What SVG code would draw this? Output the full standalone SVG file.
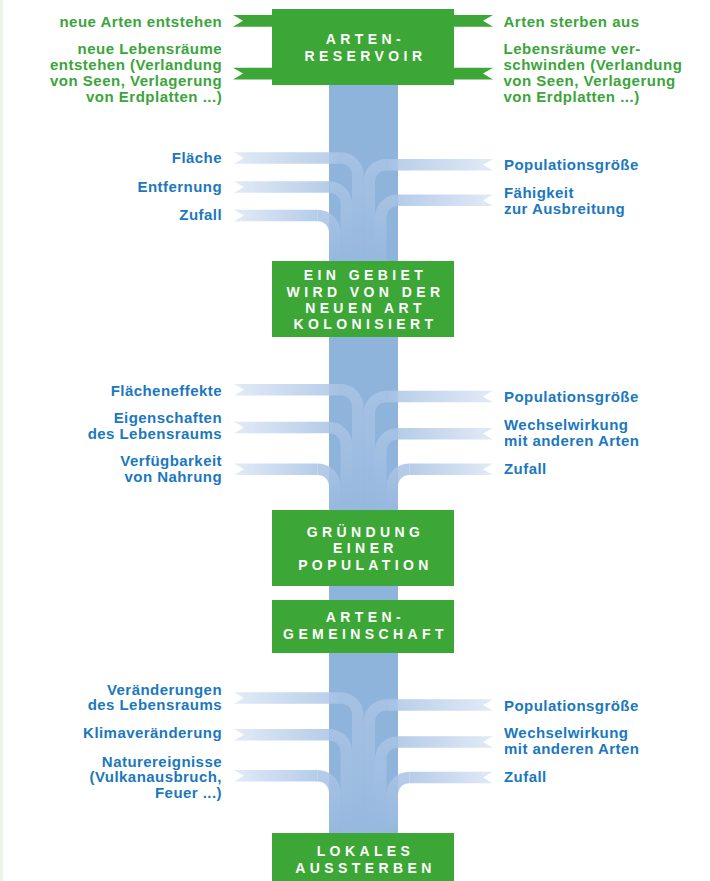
<svg xmlns="http://www.w3.org/2000/svg" width="710" height="881" viewBox="0 0 710 881">
  <defs>
    <style>
      .lg { font-family: "Liberation Sans", Arial, sans-serif; font-weight: bold; font-size: 15px; fill: #3aa53a; letter-spacing: 0.5px; }
      .lb { font-family: "Liberation Sans", Arial, sans-serif; font-weight: bold; font-size: 15px; fill: #1b78be; letter-spacing: 0.45px; }
      .end { text-anchor: end; }
      .box rect { fill: #3ca636; }
      .box text { font-family: "Liberation Sans", Arial, sans-serif; font-weight: bold; font-size: 14px; fill: #ffffff; letter-spacing: 4.4px; text-anchor: middle; }
      .ribbon { fill: #3ca636; }
      .band { opacity: 0.85; }
      .band .hl { fill: url(#gl); }
      .band .hr { fill: url(#gr); }
      .band .v { fill: none; stroke: url(#gv); stroke-width: 11.5; }
    </style>
    <!-- horizontal fade of the influence bands: pale at the notched end, stronger at the column -->
    <linearGradient id="gl" x1="0" y1="0" x2="1" y2="0">
      <stop offset="0" stop-color="#dde7f6"/>
      <stop offset="1" stop-color="#a9c4e5"/>
    </linearGradient>
    <linearGradient id="gr" x1="1" y1="0" x2="0" y2="0">
      <stop offset="0" stop-color="#dde7f6"/>
      <stop offset="1" stop-color="#a9c4e5"/>
    </linearGradient>
    <!-- vertical run inside the column fades towards the column colour -->
    <linearGradient id="gv" x1="0" y1="0" x2="0" y2="1">
      <stop offset="0" stop-color="#a9c4e5"/>
      <stop offset="1" stop-color="#98b9df"/>
    </linearGradient>
  </defs>

  <rect x="0" y="0" width="710" height="881" fill="#ffffff"/>
  <rect x="0" y="0" width="3" height="881" fill="#edf4e6"/>

  <!-- central column -->
  <rect id="column" x="329" y="85" width="69" height="796" fill="#8fb4dc"/>

  <!-- connectors: bands flowing into the column -->
  <g id="connectors">
    <!-- section 1 -->
    <g class="band"><path class="hl" d="M234,152.25 H340.75 V163.75 H234 L244,158 Z"/><path class="v" d="M340.75,158 A17,17 0 0 1 357.75,175 V262"/></g>
    <g class="band"><path class="hl" d="M234,181.25 H329.25 V192.75 H234 L244,187 Z"/><path class="v" d="M329.25,187 A17,17 0 0 1 346.25,204 V262"/></g>
    <g class="band"><path class="hl" d="M234,209.75 H317.75 V221.25 H234 L244,215.5 Z"/><path class="v" d="M317.75,215.5 A17,17 0 0 1 334.75,232.5 V262"/></g>
    <g class="band"><path class="hr" d="M493,158.95 H386.25 V170.45 H493 L483,164.7 Z"/><path class="v" d="M386.25,164.7 A17,17 0 0 0 369.25,181.7 V262"/></g>
    <g class="band"><path class="hr" d="M493,194.55 H397.75 V206.05 H493 L483,200.3 Z"/><path class="v" d="M397.75,200.3 A17,17 0 0 0 380.75,217.3 V262"/></g>

    <!-- section 2 -->
    <g class="band"><path class="hl" d="M234,384.05 H340.75 V395.55 H234 L244,389.8 Z"/><path class="v" d="M340.75,389.8 A17,17 0 0 1 357.75,406.8 V511"/></g>
    <g class="band"><path class="hl" d="M234,421.75 H329.25 V433.25 H234 L244,427.5 Z"/><path class="v" d="M329.25,427.5 A17,17 0 0 1 346.25,444.5 V511"/></g>
    <g class="band"><path class="hl" d="M234,463.45 H317.75 V474.95 H234 L244,469.2 Z"/><path class="v" d="M317.75,469.2 A17,17 0 0 1 334.75,486.2 V511"/></g>
    <g class="band"><path class="hr" d="M493,390.75 H386.25 V402.25 H493 L483,396.5 Z"/><path class="v" d="M386.25,396.5 A17,17 0 0 0 369.25,413.5 V511"/></g>
    <g class="band"><path class="hr" d="M493,428.05 H397.75 V439.55 H493 L483,433.8 Z"/><path class="v" d="M397.75,433.8 A17,17 0 0 0 380.75,450.8 V511"/></g>
    <g class="band"><path class="hr" d="M493,463.45 H409.25 V474.95 H493 L483,469.2 Z"/><path class="v" d="M409.25,469.2 A17,17 0 0 0 392.25,486.2 V511"/></g>

    <!-- section 3 -->
    <g class="band"><path class="hl" d="M234,692.25 H340.75 V703.75 H234 L244,698 Z"/><path class="v" d="M340.75,698 A17,17 0 0 1 357.75,715 V834"/></g>
    <g class="band"><path class="hl" d="M234,728.95 H329.25 V740.45 H234 L244,734.7 Z"/><path class="v" d="M329.25,734.7 A17,17 0 0 1 346.25,751.7 V834"/></g>
    <g class="band"><path class="hl" d="M234,770.05 H317.75 V781.55 H234 L244,775.8 Z"/><path class="v" d="M317.75,775.8 A17,17 0 0 1 334.75,792.8 V834"/></g>
    <g class="band"><path class="hr" d="M493,699.25 H386.25 V710.75 H493 L483,705 Z"/><path class="v" d="M386.25,705 A17,17 0 0 0 369.25,722 V834"/></g>
    <g class="band"><path class="hr" d="M493,736.25 H397.75 V747.75 H493 L483,742 Z"/><path class="v" d="M397.75,742 A17,17 0 0 0 380.75,759 V834"/></g>
    <g class="band"><path class="hr" d="M493,771.75 H409.25 V783.25 H493 L483,777.5 Z"/><path class="v" d="M409.25,777.5 A17,17 0 0 0 392.25,794.5 V834"/></g>

    <!-- green ribbons at the reservoir -->
    <path class="ribbon" d="M233,15 H273 V26.7 H233 L243,20.85 Z"/>
    <path class="ribbon" d="M233,67.7 H273 V79.4 H233 L243,73.55 Z"/>
    <path class="ribbon" d="M453,15 H493 L483,20.85 L493,26.7 H453 Z"/>
    <path class="ribbon" d="M453,67.7 H493 L483,73.55 L493,79.4 H453 Z"/>
  </g>

  <!-- process boxes -->
  <g id="reservoir" class="box">
    <rect x="272" y="9" width="182" height="76"/>
    <text x="365.5" y="44">ARTEN-</text>
    <text x="365.5" y="60.7">RESERVOIR</text>
  </g>
  <g id="kolonisierung" class="box">
    <rect x="272" y="261" width="182" height="76"/>
    <text x="365.5" y="280">EIN GEBIET</text>
    <text x="365.5" y="296.5">WIRD VON DER</text>
    <text x="365.5" y="312.7">NEUEN ART</text>
    <text x="365.5" y="328.5">KOLONISIERT</text>
  </g>
  <g id="gruendung" class="box">
    <rect x="272" y="510" width="182" height="76"/>
    <text x="365.5" y="536.7">GRÜNDUNG</text>
    <text x="365.5" y="553.3">EINER</text>
    <text x="365.5" y="570">POPULATION</text>
  </g>
  <g id="gemeinschaft" class="box">
    <rect x="272" y="600" width="182" height="53"/>
    <text x="365.5" y="622">ARTEN-</text>
    <text x="365.5" y="639">GEMEINSCHAFT</text>
  </g>
  <g id="aussterben" class="box">
    <rect x="272" y="833" width="182" height="48"/>
    <text x="365.5" y="856">LOKALES</text>
    <text x="365.5" y="872.7">AUSSTERBEN</text>
  </g>

  <!-- reservoir inputs and outputs -->
  <g id="zufluss">
    <text class="lg end" x="222.2" y="26.5">neue Arten entstehen</text>
    <text class="lg end" x="222.2" y="54">neue Lebensräume</text>
    <text class="lg end" x="222.2" y="70">entstehen (Verlandung</text>
    <text class="lg end" x="222.2" y="86">von Seen, Verlagerung</text>
    <text class="lg end" x="222.2" y="102">von Erdplatten ...)</text>
  </g>
  <g id="abfluss">
    <text class="lg" x="503.5" y="26.5">Arten sterben aus</text>
    <text class="lg" x="503.5" y="53.5">Lebensräume ver-</text>
    <text class="lg" x="503.5" y="69.5">schwinden (Verlandung</text>
    <text class="lg" x="503.5" y="85.5">von Seen, Verlagerung</text>
    <text class="lg" x="503.5" y="101.5">von Erdplatten ...)</text>
  </g>

  <!-- factors of colonisation -->
  <g id="faktoren-1">
    <text class="lb end" x="222" y="162.7">Fläche</text>
    <text class="lb end" x="222" y="191.7">Entfernung</text>
    <text class="lb end" x="222" y="219.5">Zufall</text>
    <text class="lb" x="504" y="170">Populationsgröße</text>
    <text class="lb" x="504" y="198">Fähigkeit</text>
    <text class="lb" x="504" y="213.5">zur Ausbreitung</text>
  </g>

  <!-- factors of establishment -->
  <g id="faktoren-2">
    <text class="lb end" x="222" y="395.7">Flächeneffekte</text>
    <text class="lb end" x="222" y="423.3">Eigenschaften</text>
    <text class="lb end" x="222" y="438.5">des Lebensraums</text>
    <text class="lb end" x="222" y="465.5">Verfügbarkeit</text>
    <text class="lb end" x="222" y="481.5">von Nahrung</text>
    <text class="lb" x="504" y="402.3">Populationsgröße</text>
    <text class="lb" x="504" y="430">Wechselwirkung</text>
    <text class="lb" x="504" y="445.5">mit anderen Arten</text>
    <text class="lb" x="504" y="473.5">Zufall</text>
  </g>

  <!-- factors of extinction -->
  <g id="faktoren-3">
    <text class="lb end" x="222" y="695">Veränderungen</text>
    <text class="lb end" x="222" y="710">des Lebensraums</text>
    <text class="lb end" x="222" y="738.3">Klimaveränderung</text>
    <text class="lb end" x="222" y="766.7">Naturereignisse</text>
    <text class="lb end" x="222" y="782.3">(Vulkanausbruch,</text>
    <text class="lb end" x="222" y="797.7">Feuer ...)</text>
    <text class="lb" x="504" y="710.7">Populationsgröße</text>
    <text class="lb" x="504" y="738.3">Wechselwirkung</text>
    <text class="lb" x="504" y="753.5">mit anderen Arten</text>
    <text class="lb" x="504" y="781.7">Zufall</text>
  </g>
</svg>
